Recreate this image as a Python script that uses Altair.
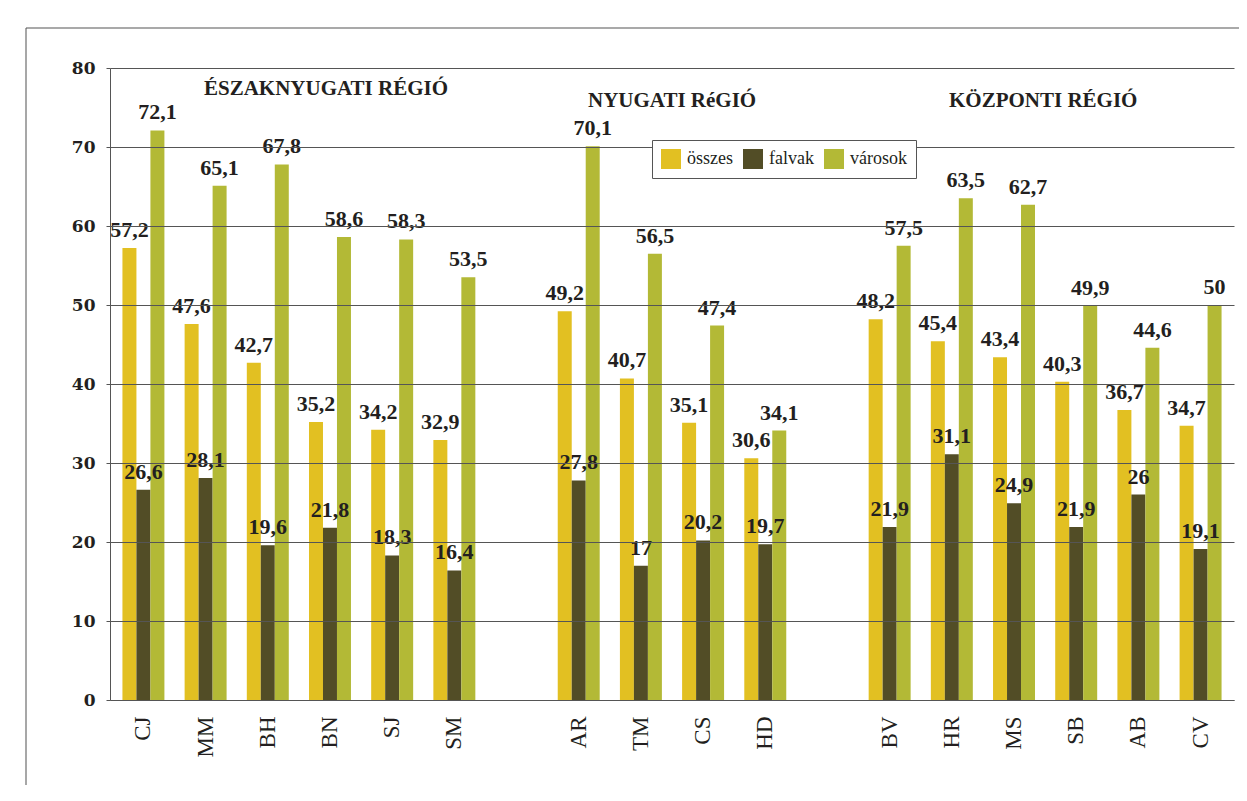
import altair as alt
import pandas as pd

categories = ["CJ", "MM", "BH", "BN", "SJ", "SM", "AR", "TM", "CS", "HD",
              "BV", "HR", "MS", "SB", "AB", "CV"]
x_domain = ["CJ", "MM", "BH", "BN", "SJ", "SM", "gap1", "AR", "TM", "CS", "HD",
            "gap2", "BV", "HR", "MS", "SB", "AB", "CV"]
series = ["összes", "falvak", "városok"]
colors = ["#E2C022", "#524D26", "#B3B936"]

osszes = [57.2, 47.6, 42.7, 35.2, 34.2, 32.9, 49.2, 40.7, 35.1, 30.6,
          48.2, 45.4, 43.4, 40.3, 36.7, 34.7]
falvak = [26.6, 28.1, 19.6, 21.8, 18.3, 16.4, 27.8, 17, 20.2, 19.7,
          21.9, 31.1, 24.9, 21.9, 26, 19.1]
varosok = [72.1, 65.1, 67.8, 58.6, 58.3, 53.5, 70.1, 56.5, 47.4, 34.1,
           57.5, 63.5, 62.7, 49.9, 44.6, 50]

region_titles = ["ÉSZAKNYUGATI RÉGIÓ", "NYUGATI RéGIÓ", "KÖZPONTI RÉGIÓ"]
region_anchor = ["BN", "CS", "SB"]
region_y = [77.3, 75.8, 75.8]
region_dx = [-4, -31, -33]

rows = []
for s, vals in zip(series, [osszes, falvak, varosok]):
    for c, v in zip(categories, vals):
        rows.append({"cat": c, "series": s, "value": v,
                     "label": (f"{v:g}").replace(".", ",")})
df = pd.DataFrame(rows)

TEXT = "#231F20"

x_enc = alt.X("cat:N", scale=alt.Scale(domain=x_domain, paddingInner=0.325, paddingOuter=0.2),
              axis=alt.Axis(title=None, labelAngle=-90, ticks=False, labelPadding=16,
                            labelFont="Liberation Serif", labelFontSize=23, labelColor=TEXT,
                            labelExpr="indexof(datum.label, 'gap') == 0 ? '' : datum.label",
                            domainColor="#7a7a7a", domainWidth=1.2, grid=False))
y_enc = alt.Y("value:Q", scale=alt.Scale(domain=[0, 80], nice=False),
              axis=alt.Axis(title=None, values=list(range(0, 81, 10)), tickSize=4,
                            tickColor="#555", labelPadding=11,
                            labelFont="DejaVu Serif", labelFontWeight="bold",
                            labelFontSize=17, labelColor=TEXT,
                            domainColor="#555", grid=True, gridColor="#555",
                            gridWidth=1, zindex=1))
xo = alt.XOffset("series:N", sort=series, scale=alt.Scale(paddingInner=0, paddingOuter=0))

bars = alt.Chart(df).mark_bar().encode(
    x=x_enc, y=y_enc, xOffset=xo,
    color=alt.Color("series:N", sort=series,
                    scale=alt.Scale(domain=series, range=colors),
                    legend=alt.Legend(title=None, orient="none", legendX=542, legendY=72,
                                      direction="horizontal", symbolType="square",
                                      symbolSize=400, symbolStrokeWidth=0,
                                      labelFont="Liberation Serif", labelFontSize=18,
                                      labelColor=TEXT, labelOffset=6, columnPadding=10,
                                      padding=9, strokeColor="#555", fillColor="white",
                                      zindex=2)),
)

labels = alt.Chart(df).mark_text(font="Liberation Serif", fontWeight="bold", fontSize=22,
                                 color=TEXT, baseline="alphabetic", dy=-11).encode(
    x=alt.X("cat:N"), y=alt.Y("value:Q"), xOffset=alt.XOffset("series:N", sort=series),
    text="label:N")

layers = [bars, labels]
for t, a, yv, dx in zip(region_titles, region_anchor, region_y, region_dx):
    d = pd.DataFrame({"cat": [a], "value": [yv], "t": [t]})
    layers.append(alt.Chart(d).mark_text(font="Liberation Serif", fontWeight="bold",
                                         fontSize=21, color=TEXT, dx=dx,
                                         baseline="middle").encode(
        x=alt.X("cat:N"), y=alt.Y("value:Q"), text="t:N"))

one = alt.Data(values=[{"k": 1}])
frame_v = alt.Chart(one).mark_rule(color="#8a8a8a", strokeWidth=1.5).encode(
    x=alt.value(-84), y=alt.value(-40), y2=alt.value(730))
frame_h = alt.Chart(one).mark_rule(color="#555", strokeWidth=1.2).encode(
    x=alt.value(-84), x2=alt.value(1130), y=alt.value(-40))
layers += [frame_v, frame_h]

chart = alt.layer(*layers).properties(
    width=1124, height=632,
    autosize=alt.AutoSizeParams(type="none"),
    padding={"left": 102, "top": 60, "right": 5, "bottom": 85},
).configure_view(stroke=None)

chart.save("out.html", embed_options={"renderer": "svg", "actions": False})
